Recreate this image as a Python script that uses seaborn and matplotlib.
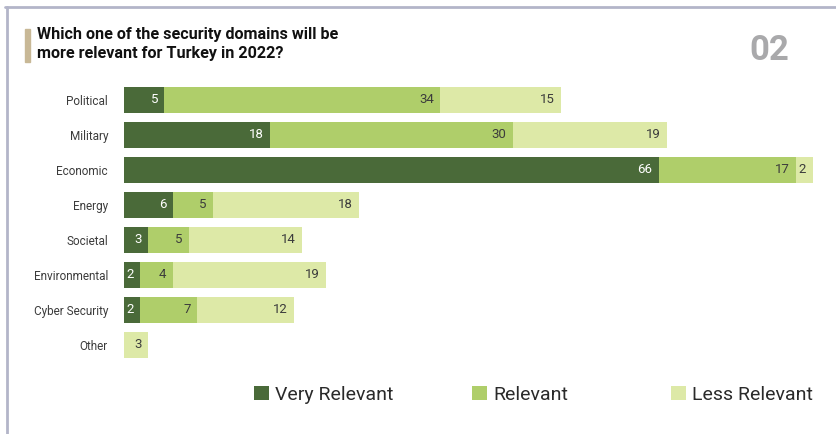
import matplotlib
matplotlib.use('Agg')
import matplotlib.pyplot as plt
from matplotlib.lines import Line2D
from matplotlib.patches import Patch, Rectangle
import numpy as np
import pandas as pd
import seaborn as sns

# values
domains = ['Political', 'Military', 'Economic', 'Energy', 'Societal',
           'Environmental', 'Cyber Security', 'Other']
very_relevant = [5, 18, 66, 6, 3, 2, 2, 0]
relevant = [34, 30, 17, 5, 5, 4, 7, 0]
less_relevant = [15, 19, 2, 18, 14, 19, 12, 3]
series_names = ['Very Relevant', 'Relevant', 'Less Relevant']
colors = ['#4a6a39', '#afce6a', '#dde9a7']
text_colors = ['white', '#3c3c3c', '#3c3c3c']

df = pd.DataFrame({'domain': domains,
                   'Very Relevant': very_relevant,
                   'Relevant': relevant,
                   'Less Relevant': less_relevant})
cum = df[series_names].cumsum(axis=1)

sns.set_style('white')
plt.rcParams['font.family'] = ['Roboto', 'DejaVu Sans']

fig = plt.figure(figsize=(8.36, 4.34), dpi=100)
ax = fig.add_axes([0.1483, 0.165, 0.843, 0.645])

# stacked bars: draw the running totals from the largest down
for name, col in reversed(list(zip(series_names, colors))):
    sns.barplot(x=cum[name], y=df['domain'], color=col, orient='h',
                width=0.74, saturation=1, linewidth=0, ax=ax)

for i in range(len(domains)):
    for name, tc in zip(series_names, text_colors):
        val = df[name][i]
        if val > 0:
            ax.annotate(str(val), (cum[name][i], i), xytext=(-4.5, 0),
                        textcoords='offset points', ha='right', va='center',
                        color=tc, fontsize=9.5)

ax.set_xlim(0, 87)
ax.set_ylim(len(domains) - 0.5, -0.5)
ax.set_xlabel('')
ax.set_ylabel('')
ax.set_xticks([])
ax.tick_params(axis='y', length=0, pad=11.5, labelsize=8.5, labelcolor='#3c3c3c')
sns.despine(ax=ax, left=True, bottom=True)

# legend, one entry each
legend_x = [254, 472, 671]
for name, col, lx in zip(series_names, colors, legend_x):
    fig.legend(handles=[Patch(facecolor=col, edgecolor='none', label=name)],
               loc='center left', bbox_to_anchor=(lx / 836, 1 - 395 / 434),
               frameon=False, fontsize=14, handlelength=0.75, handleheight=0.75,
               handletextpad=0.35, borderpad=0, borderaxespad=0,
               labelcolor='#2a2a2a')

# title block and frame
fig.text(37 / 836, 1 - 27 / 434,
         'Which one of the security domains will be\nmore relevant for Turkey in 2022?',
         ha='left', va='top', fontsize=11.6, weight='bold', color='#111111',
         linespacing=1.3)
fig.add_artist(Rectangle((25 / 836, 1 - 62 / 434), 5 / 836, 33 / 434,
                         transform=fig.transFigure, color='#c8b896'))
fig.text(789 / 836, 1 - 50 / 434, '02', ha='right', va='center',
         fontsize=25, weight='bold', color='#a9a9ab')
fig.add_artist(Line2D([5 / 836, 1], [1 - 7 / 434] * 2, transform=fig.transFigure,
                      color='#b3b5c9', lw=2))
fig.add_artist(Line2D([7 / 836] * 2, [0, 1 - 7 / 434], transform=fig.transFigure,
                      color='#b3b5c9', lw=2))

fig.savefig('out.png', dpi=100)
